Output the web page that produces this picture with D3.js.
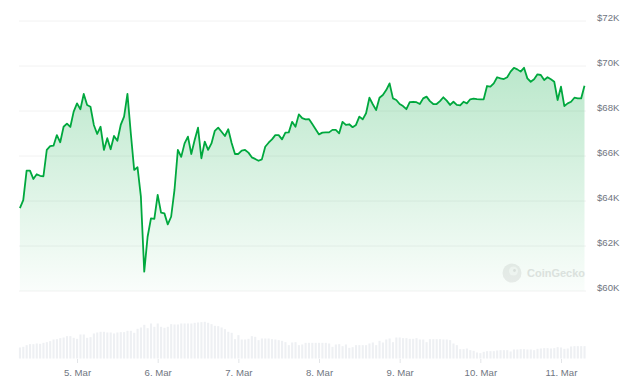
<!DOCTYPE html>
<html>
<head>
<meta charset="utf-8">
<script src="https://cdn.jsdelivr.net/npm/d3@7"></script>
<style>
  body { margin: 0; background: #fff; }
  svg { display: block; font-family: "Liberation Sans", Arial, sans-serif; }
</style>
</head>
<body>
<div id="chart"></div>
<script>
// hourly series, first point 4 Mar 07:00
const startTime = "2024-03-04T07:00:00Z";

// price in $K
const prices = [
  63.68, 64.04, 65.35, 65.35, 64.98, 65.19, 65.12, 65.10, 66.27, 66.44,
  66.46, 66.93, 66.61, 67.30, 67.44, 67.29, 67.97, 68.34, 68.08, 68.76,
  68.27, 68.19, 67.38, 66.98, 67.30, 66.27, 66.79, 66.30, 66.89, 66.68,
  67.38, 67.75, 68.76, 67.01, 65.38, 65.50, 64.19, 60.86, 62.41, 63.23,
  63.21, 64.27, 63.48, 63.45, 62.96, 63.30, 64.49, 66.27, 65.96, 66.56,
  66.86, 66.09, 66.71, 67.26, 65.90, 66.64, 66.27, 66.56, 67.12, 67.26,
  67.08, 66.89, 67.19, 66.58, 66.09, 66.09, 66.24, 66.27, 66.15, 65.94,
  65.87, 65.79, 65.85, 66.41, 66.59, 66.74, 66.93, 66.93, 66.74, 67.04,
  67.05, 67.52, 67.30, 67.85, 67.68, 67.63, 67.64, 67.42, 67.19, 66.96,
  67.04, 67.05, 67.05, 67.16, 67.16, 67.01, 67.52, 67.38, 67.41, 67.28,
  67.38, 67.75, 67.63, 67.90, 68.59, 68.30, 68.04, 68.59, 68.71, 68.93,
  69.23, 68.56, 68.49, 68.31, 68.22, 68.08, 68.39, 68.41, 68.39, 68.31,
  68.56, 68.64, 68.44, 68.31, 68.31, 68.44, 68.61, 68.46, 68.27, 68.41,
  68.27, 68.25, 68.41, 68.34, 68.52, 68.55, 68.53, 68.52, 68.52, 69.11,
  69.08, 69.23, 69.50, 69.45, 69.42, 69.50, 69.75, 69.92, 69.85, 69.75,
  69.92, 69.45, 69.30, 69.41, 69.63, 69.60, 69.38, 69.50, 69.41, 69.30,
  68.49, 69.08, 68.22, 68.34, 68.41, 68.59, 68.56, 68.56, 69.12
];

// hourly volume, relative units
const volumes = [
  33, 35, 40, 43, 43, 45, 44, 47, 49, 52,
  57, 58, 61, 63, 67, 67, 62, 59, 72, 72,
  62, 64, 75, 78, 80, 80, 78, 78, 75, 78,
  79, 79, 83, 83, 77, 89, 93, 101, 91, 105,
  95, 105, 95, 92, 95, 103, 102, 102, 105, 105,
  105, 105, 107, 108, 109, 110, 107, 103, 98, 97,
  93, 88, 80, 77, 58, 70, 57, 57, 59, 67,
  65, 55, 60, 60, 60, 58, 57, 55, 53, 49,
  40, 48, 49, 40, 42, 47, 47, 47, 47,
  47, 47, 47, 45, 35, 42, 43, 37, 42, 32,
  34, 40, 40, 40, 40, 45, 48, 40, 53, 48,
  57, 60, 49, 63, 63, 61, 61, 59, 59, 61,
  57, 57, 49, 58, 58, 58, 58, 57, 57, 55,
  45, 40, 28, 28, 30, 25, 23, 18, 16, 20,
  22, 22, 22, 24, 25, 25, 25, 21, 27, 27,
  28, 28, 27, 27, 25, 29, 30, 31, 31, 30,
  31, 34, 33, 29, 30, 36, 37, 37, 37, 37
];

const priceTicks = [60, 62, 64, 66, 68, 70, 72];
const dayTicks = ["2024-03-05", "2024-03-06", "2024-03-07", "2024-03-08", "2024-03-09", "2024-03-10", "2024-03-11"];

const width = 637;
const height = 387;

const t0 = new Date(startTime);
const data = prices.map((p, i) => ({
  time: new Date(t0.getTime() + i * 3600 * 1000),
  price: p,
  volume: volumes[i]
}));

const svg = d3
  .select("#chart")
  .append("svg")
  .attr("width", width)
  .attr("height", height);

const xScale = d3
  .scaleUtc()
  .domain(d3.extent(data, (d) => d.time))
  .range([19.9, 584.5]);

const yScale = d3
  .scaleLinear()
  .domain([60, 72])
  .range([291, 21]);

const volScale = d3
  .scaleLinear()
  .domain([0, d3.max(volumes)])
  .range([358.5, 321.8]);

// gradient under the line
const grad = svg
  .append("defs")
  .append("linearGradient")
  .attr("id", "areaFill")
  .attr("gradientUnits", "userSpaceOnUse")
  .attr("x1", 0).attr("x2", 0)
  .attr("y1", yScale(70)).attr("y2", yScale(60));
grad.append("stop").attr("offset", 0).attr("stop-color", "#00a83e").attr("stop-opacity", 0.27);
grad.append("stop").attr("offset", 1).attr("stop-color", "#00a83e").attr("stop-opacity", 0.02);

// gridlines
svg
  .append("g")
  .selectAll("line")
  .data(priceTicks)
  .enter()
  .append("line")
  .attr("x1", 19)
  .attr("x2", 586)
  .attr("y1", (d) => yScale(d))
  .attr("y2", (d) => yScale(d))
  .attr("stroke", "#f2f2f2")
  .attr("stroke-width", 1);

// y labels on the right
svg
  .append("g")
  .selectAll("text")
  .data(priceTicks)
  .enter()
  .append("text")
  .attr("x", 597)
  .attr("y", (d) => yScale(d) - 0.5)
  .attr("font-size", "9.6px")
  .attr("fill", "#70767f")
  .text((d) => `$${d}K`);

// watermark
const mark = svg.append("g").attr("transform", "translate(512,273)");
mark.append("circle").attr("r", 9.5).attr("fill", "#ededed");
mark.append("circle").attr("cx", 1.5).attr("cy", -2).attr("r", 4.5).attr("fill", "#f7f7f7");
mark.append("circle").attr("cx", 2.5).attr("cy", -2.5).attr("r", 1.4).attr("fill", "#e2e2e2");
mark
  .append("text")
  .attr("x", 15)
  .attr("y", 4)
  .attr("font-size", "11px")
  .attr("font-weight", "bold")
  .attr("fill", "#e4e4e4")
  .text("CoinGecko");

// area + line
const area = d3
  .area()
  .x((d) => xScale(d.time))
  .y0(yScale(60))
  .y1((d) => yScale(d.price));

svg.append("path").datum(data).attr("d", area).attr("fill", "url(#areaFill)");

const line = d3
  .line()
  .x((d) => xScale(d.time))
  .y((d) => yScale(d.price));

svg
  .append("path")
  .datum(data)
  .attr("d", line)
  .attr("fill", "none")
  .attr("stroke", "#00a83e")
  .attr("stroke-width", 1.8)
  .attr("stroke-linejoin", "round");

// volume bars
svg
  .append("g")
  .selectAll("rect")
  .data(data)
  .enter()
  .append("rect")
  .attr("x", (d) => xScale(d.time) - 1)
  .attr("y", (d) => volScale(d.volume))
  .attr("width", 2.1)
  .attr("height", (d) => volScale(0) - volScale(d.volume))
  .attr("fill", "#eef0f3");

// x axis ticks + labels
const xAxis = svg
  .append("g")
  .attr("transform", "translate(0,359)")
  .call(
    d3
      .axisBottom(xScale)
      .tickValues(dayTicks.map((s) => new Date(s + "T00:00:00Z")))
      .tickFormat(d3.utcFormat("%-d. %b"))
      .tickSize(4)
      .tickPadding(6)
  );
xAxis.select(".domain").remove();
xAxis.selectAll(".tick line").attr("stroke", "#e3e5e8");
xAxis
  .selectAll(".tick text")
  .attr("font-family", "Liberation Sans, Arial, sans-serif")
  .attr("font-size", "9.6px")
  .attr("fill", "#70767f");
</script>
</body>
</html>
